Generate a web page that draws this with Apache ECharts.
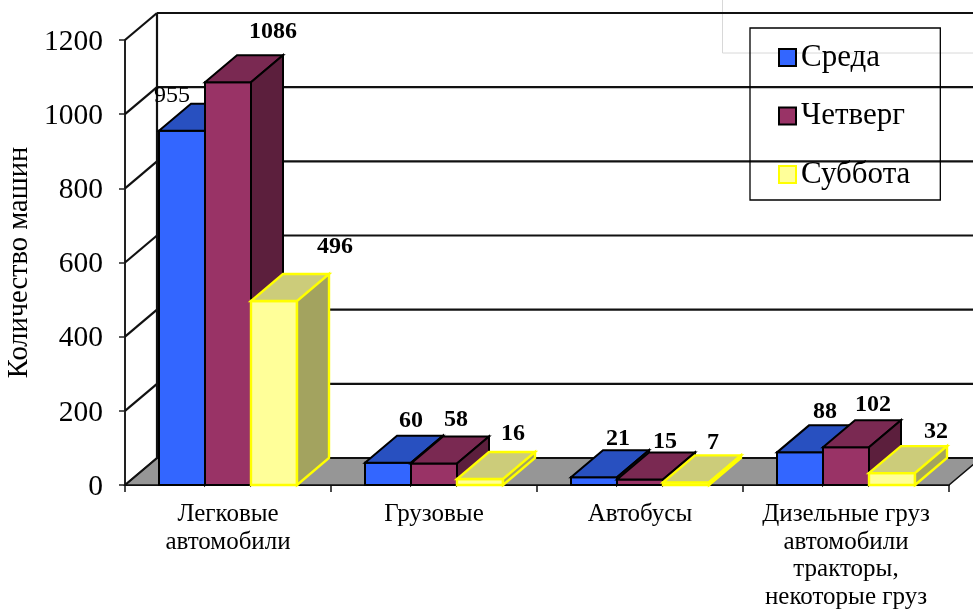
<!DOCTYPE html>
<html><head><meta charset="utf-8">
<style>html,body{margin:0;padding:0;background:#fff}#c{width:973px;height:609px}</style>
<script src="https://cdn.jsdelivr.net/npm/echarts@6/dist/echarts.min.js"></script>
</head><body><div id="c"></div>
<script>
const categories = ['Легковые\nавтомобили','Грузовые','Автобусы','Дизельные груз\nавтомобили\nтракторы,\nнекоторые груз'];
const sreda = [955, 60, 21, 88];
const chetverg = [1086, 58, 15, 102];
const subbota = [496, 16, 7, 32];
const yTicks = [0,200,400,600,800,1000,1200];

const DX = 32, DY = -27, BAR = 46;
const SERIF = '"Liberation Serif","Times New Roman",serif';
// label offset from the front-top centre of each bar
const offsSreda = [[-10,-35],[23,-42],[24,-38],[25,-41]];
const offsChet = [[45,-50],[22,-44],[25,-38],[27,-42]];
const offsSub = [[61,-54],[33,-45],[27,-40],[44,-41]];

function poly(points, fill, stroke, lw){
  return {type:'polygon', shape:{points}, style:{fill, stroke, lineWidth:lw, lineJoin:'miter'}};
}
function barSeries(name, values, slot, cols, stroke, lw, offs, regularFirst){
  return {
    name, type:'custom', clip:false, z:5,
    itemStyle:{color:cols[0], borderColor:stroke, borderWidth:1.5},
    data: values.map((v,i)=>[i,v]),
    encode:{x:0,y:1},
    renderItem(params, api){
      const i = api.value(0), v = api.value(1);
      const c = api.coord([i,v]), b = api.coord([i,0]);
      const x0 = c[0] + (slot-1.5)*BAR, x1 = x0 + BAR, yT = c[1], yB = b[1];
      const off = offs[i];
      return {type:'group', children:[
        poly([[x0,yB],[x1,yB],[x1,yT],[x0,yT]], cols[0], stroke, lw),
        poly([[x0,yT],[x1,yT],[x1+DX,yT+DY],[x0+DX,yT+DY]], cols[1], stroke, lw),
        poly([[x1,yB],[x1+DX,yB+DY],[x1+DX,yT+DY],[x1,yT]], cols[2], stroke, lw),
        {type:'text', style:{text:String(v), x:x0+BAR/2+off[0], y:yT+off[1],
          font:(regularFirst&&i===0?'24px ':'bold 24px ')+SERIF, fill:'#000', align:'center', verticalAlign:'middle'}}
      ]};
    }
  };
}
const chart = echarts.init(document.getElementById('c'), null, {renderer:'canvas'});
chart.setOption({
  animation:false,
  backgroundColor:'#fff',
  graphic:[{type:'polyline', z:0, shape:{points:[[722.5,0],[722.5,53],[973,53]]}, style:{fill:null, stroke:'#d8d8d8', lineWidth:1}}],
  grid:{left:125, right:24, top:40, bottom:124, outerBoundsMode:'none'},
  legend:{
    data:['Среда','Четверг','Суббота'], orient:'vertical', left:750, top:28,
    padding:[14,30,10,28], itemWidth:17, itemHeight:17, itemGap:27.5, icon:'rect',
    borderColor:'#000', borderWidth:1.3, backgroundColor:'transparent',
    selectedMode:false, z:20,
    textStyle:{fontFamily:SERIF, fontSize:31, color:'#000', lineHeight:27, padding:[3,0,0,0]}
  },
  xAxis:{type:'category', data:categories, boundaryGap:true,
    axisLine:{lineStyle:{color:'#111',width:2}},
    axisTick:{show:true, length:7, alignWithLabel:false, lineStyle:{color:'#111',width:1.5}},
    axisLabel:{fontFamily:SERIF, fontSize:25, color:'#000', lineHeight:27.5, margin:16, interval:0, hideOverlap:false}
  },
  yAxis:{type:'value', min:0, max:1200, interval:200, name:'Количество машин', nameLocation:'middle', nameGap:91, nameMoveOverlap:false,
    nameTextStyle:{fontFamily:SERIF, fontSize:28.5, color:'#000'},
    axisLine:{show:true, lineStyle:{color:'#222',width:2}},
    axisTick:{show:true, length:6, lineStyle:{color:'#222',width:1.5}},
    axisLabel:{margin:22, formatter:v=>'{a|'+v+'}',
      rich:{a:{fontFamily:SERIF, fontSize:29.5, color:'#000', padding:[4,0,0,0]}}},
    splitLine:{show:false}
  },
  series:[
    {type:'custom', clip:false, z:1, silent:true, data:[[0,0]], encode:{x:0,y:1},
     renderItem(p, api){
       const s = api.size([1,0])[0];
       const a = api.coord([0,0]), b = api.coord([categories.length-1,0]);
       const l = a[0]-s/2, r = b[0]+s/2, y = a[1];
       return poly([[l,y],[r,y],[r+DX,y+DY],[l+DX,y+DY]], '#969696', '#111', 1.5);
     }},
    {type:'custom', clip:false, z:2, silent:true, data:yTicks.map(t=>[0,t]), encode:{x:0,y:1},
     renderItem(p, api){
       const s = api.size([1,0])[0];
       const a = api.coord([0,api.value(1)]), b = api.coord([categories.length-1,api.value(1)]);
       const l = a[0]-s/2, r = b[0]+s/2, y = a[1];
       const ls = {stroke:'#111', lineWidth:2.2, fill:null};
       const kids = [
         {type:'line', shape:{x1:l,y1:y,x2:l+DX,y2:y+DY}, style:ls},
         {type:'line', shape:{x1:l+DX,y1:y+DY,x2:r+DX,y2:y+DY}, style:ls}
       ];
       if(api.value(1)===0){
         const top = api.coord([0,yTicks[yTicks.length-1]])[1];
         kids.push({type:'line', shape:{x1:l+DX,y1:y+DY,x2:l+DX,y2:top+DY}, style:ls});
       }
       return {type:'group', children:kids};
     }},
    barSeries('Среда', sreda, 0, ['#3366FF','#2850C0','#1F3E94'], '#000', 2, offsSreda, true),
    barSeries('Четверг', chetverg, 1, ['#993366','#7A2952','#5C1F3D'], '#000', 2, offsChet, false),
    barSeries('Суббота', subbota, 2, ['#FFFF99','#CCCC7A','#A3A35F'], '#FFFF00', 2.4, offsSub, false)
  ]
});
</script></body></html>
